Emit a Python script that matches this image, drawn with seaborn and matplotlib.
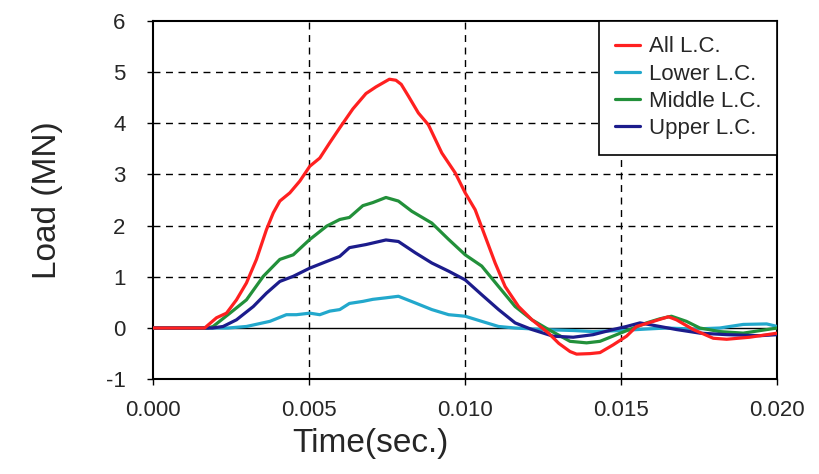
import matplotlib
matplotlib.use("Agg")
import matplotlib.pyplot as plt
import seaborn as sns
import pandas as pd
import numpy as np

# Load histories of the load cells (time in ms, load in MN)
t_all = [0, 1.65, 2.03, 2.35, 2.67, 2.99, 3.31, 3.63, 3.85, 4.06, 4.38, 4.7, 5.02, 5.34,
         5.66, 5.98, 6.4, 6.82, 7.14, 7.57, 7.78, 7.95, 8.18, 8.5, 8.82, 9.25, 9.68,
         10.0, 10.32, 10.64, 10.96, 11.28, 11.71, 12.14, 12.67, 13.0, 13.36, 13.57,
         14.0, 14.32, 14.74, 15.17, 15.49, 16.03, 16.51, 16.77, 17.31, 17.95, 18.38,
         19.12, 20.0]
load_all = [0, 0, 0.2, 0.29, 0.55, 0.88, 1.34, 1.92, 2.25, 2.48, 2.64, 2.87, 3.16, 3.32,
            3.62, 3.91, 4.28, 4.58, 4.71, 4.86, 4.84, 4.76, 4.53, 4.2, 3.97, 3.42, 3.03,
            2.64, 2.31, 1.79, 1.27, 0.81, 0.42, 0.16, -0.1, -0.3, -0.46, -0.51,
            -0.5, -0.48, -0.33, -0.16, 0.03, 0.13, 0.22, 0.16, -0.03, -0.2, -0.22,
            -0.18, -0.1]

t_lower = [0, 2.4, 2.99, 3.74, 4.27, 4.59, 5.02, 5.34, 5.66, 5.98, 6.29, 6.72, 7.04,
           7.46, 7.86, 8.4, 8.93, 9.47, 10.0, 10.53, 11.07, 11.6, 12.5, 13.5, 14.1,
           14.96, 15.81, 16.45, 17.31, 18.16, 18.91, 19.66, 20.0]
load_lower = [0, 0, 0.03, 0.13, 0.26, 0.26, 0.29, 0.26, 0.33, 0.36, 0.48, 0.52, 0.56,
              0.59, 0.62, 0.49, 0.36, 0.26, 0.23, 0.13, 0.03, 0, -0.03, -0.05, -0.07,
              -0.05, -0.02, 0, -0.02, 0, 0.07, 0.08, 0.03]

t_middle = [0, 1.75, 1.92, 2.46, 2.99, 3.53, 4.06, 4.49, 5.02, 5.56, 5.98, 6.29, 6.72,
            7.04, 7.46, 7.86, 8.29, 8.93, 9.47, 10.0, 10.53, 11.07, 11.6, 12.14, 12.67,
            13.36, 13.89, 14.32, 14.85, 15.39, 15.81, 16.24, 16.61, 17.09, 17.52, 18.16,
            18.91, 20.0]
load_middle = [0, 0, 0.03, 0.29, 0.55, 1.01, 1.34, 1.43, 1.73, 1.99, 2.12, 2.16, 2.39,
               2.45, 2.55, 2.48, 2.28, 2.05, 1.73, 1.43, 1.21, 0.81, 0.42, 0.16, -0.03,
               -0.26, -0.29, -0.26, -0.13, 0, 0.1, 0.18, 0.23, 0.13, 0, -0.07,
               -0.1, 0]

t_upper = [0, 1.9, 2.24, 2.67, 3.21, 3.63, 4.06, 4.49, 5.02, 5.56, 5.98, 6.29, 6.82,
           7.46, 7.86, 8.4, 8.93, 9.47, 10.0, 10.53, 11.07, 11.6, 12.14, 12.82, 13.46,
           14.1, 14.74, 15.17, 15.6, 16.24, 16.77, 17.52, 18.38, 19.45, 20.0]
load_upper = [0, 0, 0.03, 0.16, 0.42, 0.68, 0.91, 1.01, 1.17, 1.3, 1.4, 1.57, 1.63,
              1.72, 1.69, 1.47, 1.27, 1.11, 0.94, 0.65, 0.36, 0.1, -0.03, -0.16, -0.18,
              -0.13, -0.03, 0.03, 0.1, 0.03, -0.03, -0.1, -0.13, -0.15, -0.13]

series = ["All L.C.", "Lower L.C.", "Middle L.C.", "Upper L.C."]
colors = ["#FF2020", "#22A8CC", "#22903A", "#1C1C8C"]
x_ticks = [0.000, 0.005, 0.010, 0.015, 0.020]
y_ticks = [-1, 0, 1, 2, 3, 4, 5, 6]

frames = []
for name, t, v in zip(series,
                      [t_all, t_lower, t_middle, t_upper],
                      [load_all, load_lower, load_middle, load_upper]):
    frames.append(pd.DataFrame({"time": np.asarray(t) / 1000.0, "load": v, "gauge": name}))
df = pd.concat(frames, ignore_index=True)

sns.set_theme(style="white")
plt.rcParams["font.family"] = ["Liberation Sans", "DejaVu Sans"]

fig = plt.figure(figsize=(8.19, 4.74), dpi=100)
ax = fig.add_axes([0.187, 0.200, 0.762, 0.756])

ax.axhline(0, color="black", lw=1.0, zorder=1)
sns.lineplot(data=df, x="time", y="load", hue="gauge", hue_order=series,
             palette=dict(zip(series, colors)), lw=2.3, ax=ax, estimator=None,
             sort=False, zorder=3)
for ln in ax.lines:
    ln.set_solid_joinstyle("round")
    ln.set_solid_capstyle("round")
# keep the total load trace on top
ax.lines[1].set_zorder(4)

ax.set_xlim(0, 0.020)
ax.set_ylim(-1, 6)
ax.set_xticks(x_ticks)
ax.set_xticklabels([f"{x:.3f}" for x in x_ticks])
ax.set_yticks(y_ticks)
ax.set_yticklabels([str(y) for y in y_ticks])
ax.tick_params(axis="both", labelsize=16, length=4, width=1.0, color="black",
               direction="out", bottom=True, left=True)
ax.tick_params(axis="x", pad=11)
ax.tick_params(axis="y", pad=16)

for x in x_ticks[1:-1]:
    ax.axvline(x, color="black", lw=1.0, ls=(0, (5, 4)), zorder=0)
for y in y_ticks[2:-1]:
    ax.axhline(y, color="black", lw=1.0, ls=(0, (5, 4)), zorder=0)

for s in ax.spines.values():
    s.set_color("black")
    s.set_linewidth(1.5)

ax.set_xlabel("Time(sec.)", fontsize=24)
ax.set_ylabel("Load (MN)", fontsize=24)
ax.xaxis.set_label_coords(0.348, -0.135)
ax.yaxis.set_label_coords(-0.144, 0.5)

leg = ax.legend(loc="upper right", borderaxespad=0, fontsize=16, frameon=True,
                fancybox=False, edgecolor="black", handlelength=1.15,
                handletextpad=0.4, labelspacing=0.28, borderpad=0.7)
leg.get_frame().set_linewidth(1.2)
leg.get_frame().set_alpha(1)
for line in leg.get_lines():
    line.set_linewidth(2.3)

fig.savefig("out.png", dpi=100)
